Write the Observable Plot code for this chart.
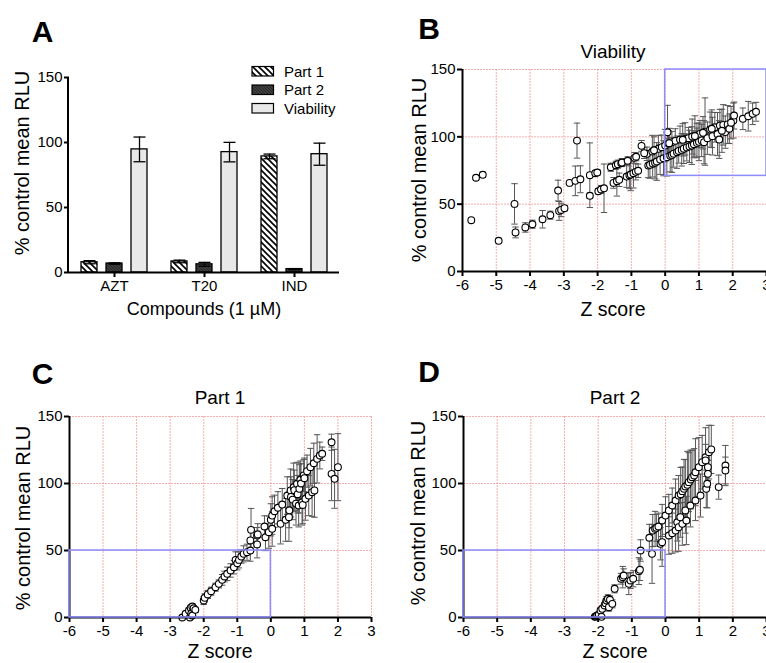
<!DOCTYPE html>
<html><head><meta charset="utf-8">
<script src="https://cdn.jsdelivr.net/npm/d3@7"></script>
<script src="https://cdn.jsdelivr.net/npm/@observablehq/plot@0.6"></script>
<style>
html,body{margin:0;padding:0;background:#fff;}
#wrap{position:relative;width:766px;height:663px;overflow:hidden;font-family:"Liberation Sans",Arial,sans-serif;background:#fff;}
#wrap > svg{position:absolute;}
</style></head><body><div id="wrap"></div>
<script>
// ---------- Panel A data ----------
const compounds = ["AZT", "T20", "IND"];
const series = ["Part 1", "Part 2", "Viability"];
const part1Mean = [7.9, 8.5, 89.3];
const part1Err = [1.2, 1.0, 1.8];
const part2Mean = [6.9, 6.3, 2.6];
const part2Err = [0.5, 1.5, 0.4];
const viabMean = [94.7, 92.6, 91.0];
const viabErr = [9.5, 7.5, 8.5];
const yTicks = [0, 50, 100, 150];
const zTicks = [-6, -5, -4, -3, -2, -1, 0, 1, 2, 3];

// ---------- Panel B (Viability) ----------
const zB = [-5.74,-5.60,-5.40,-4.93,-4.46,-4.43,-4.14,-3.93,-3.63,-3.40,
  -3.17,-3.14,-3.08,-2.98,-2.83,-2.66,-2.61,-2.51,-2.23,-2.23,
  -2.07,-2.01,-1.98,-1.90,-1.81,-1.61,-1.53,-1.46,-1.43,-1.40,
  -1.36,-1.30,-1.28,-1.14,-1.11,-1.06,-1.02,-0.94,-0.91,-0.87,
  -0.86,-0.80,-0.70,-0.54,-0.50,-0.45,-0.38,-0.37,-0.30,-0.25,
  -0.20,-0.15,-0.10,-0.05,0.00,0.05,0.07,0.10,0.15,0.20,
  0.20,0.25,0.30,0.35,0.40,0.44,0.49,0.55,0.59,0.64,
  0.69,0.72,0.79,0.85,0.94,0.94,1.00,1.03,1.08,1.15,
  1.18,1.25,1.33,1.40,1.47,1.55,1.60,1.62,1.72,1.78,
  1.85,1.90,2.02,2.04,2.30,2.46,2.59,2.69,
  -0.62,-0.33,0.12,0.52,0.80,0.88,1.12,1.38,1.68,1.95];
const vB = [38.1,69.6,71.8,22.8,50.2,29.0,32.7,35.1,38.8,41.8,
  60.1,45.0,45.7,47.0,65.8,67.3,97.2,68.5,56.2,71.5,
  73.0,73.5,59.6,60.9,61.8,77.4,65.8,78.9,67.0,79.7,
  68.1,80.4,80.9,70.5,82.2,71.5,72.0,73.0,84.4,74.0,
  85.2,74.8,93.3,87.4,78.7,79.2,89.1,80.2,80.8,81.7,
  91.1,83.1,92.3,84.1,93.5,84.9,103.4,94.8,86.0,96.0,
  86.6,87.5,97.0,88.6,89.5,98.0,90.3,91.2,98.5,92.1,
  99.0,92.9,93.5,94.5,95.5,101.0,96.3,102.2,97.3,96.0,
  103.9,99.0,105.4,100.5,107.1,102.0,98.0,108.4,108.9,103.5,
  109.2,106.0,112.1,115.8,113.4,115.3,117.1,118.6,
  87.9,90.0,95.3,97.8,100.2,100.6,103.0,106.0,104.5,110.5];
const eB = [0,1.5,2,0,15,4,3.5,3,6.5,3,
  7.7,7,5,2,1,11,13,10,2,24,
  2,2,2,3,18,3,4,3,11,3,
  5,2,3,8,3,10,12,11,4,6,
  3,5,4,5,9,10,12,10,12,14,
  10,11,9,13,12,14,20,10,12,8,
  13,10,9,12,9,10,12,11,12,10,
  8,12,14,10,11,9,14,10,12,16,
  25,12,13,14,11,16,14,12,15,12,
  14,11,13,10,8,11,8,7,
  4,10,11,12,13,15,12,14,16,12];
const boxB = [0, 3, 71, 150];

// ---------- Panel C (Part 1) ----------
const zC = [-2.64,-2.54,-2.44,-2.41,-2.39,-2.37,-2.34,-2.34,-2.30,-2.25,
  -2.00,-1.97,-1.88,-1.78,-1.65,-1.55,-1.45,-1.38,-1.30,-1.20,
  -1.10,-1.05,-1.00,-0.95,-0.88,-0.81,-0.71,-0.61,-0.61,-0.59,
  -0.41,-0.41,-0.39,-0.19,-0.16,-0.06,0.00,0.04,0.04,0.11,
  0.21,0.29,0.34,0.44,0.49,0.54,0.55,0.59,0.60,0.65,
  0.68,0.70,0.75,0.78,0.80,0.83,0.85,0.88,0.90,0.93,
  0.95,0.98,1.00,1.03,1.08,1.13,1.18,1.23,1.28,1.30,
  1.38,1.46,1.53,1.81,1.81,1.90,2.00];
const vC = [0.0,2.8,5.2,0.0,7.2,3.0,8.2,1.5,6.9,5.7,
  12.7,14.7,17.2,19.6,22.6,25.1,28.1,30.6,32.6,35.1,
  37.5,43.0,40.5,43.0,45.5,47.5,48.7,50.0,57.5,65.4,
  61.2,54.5,62.0,67.9,59.9,63.7,72.9,66.2,76.1,79.3,
  81.9,69.9,84.3,72.9,91.0,74.9,80.0,94.8,90.0,88.0,
  97.2,95.0,85.0,99.8,92.0,83.6,96.0,102.8,100.0,86.0,
  84.0,106.0,104.0,88.6,109.2,91.0,112.2,93.5,115.1,94.8,
  118.4,120.9,122.2,130.8,107.2,103.5,112.2];
const eC = [1,1.5,2,1,2,1.5,2,1,2,2,
  3,3,3,3,3,3,4,4,5,5,
  5,6,5,6,5,6,6,8,8,16,
  6,10,8,8,10,12,12,13,14,12,
  12,15,12,16,14,18,13,16,15,15,
  18,15,16,16,14,16,18,14,15,17,
  14,12,15,16,12,15,14,18,15,20,
  18,10,5,6,20,22,25];
const boxC = [-6, 0, 0, 50];

// ---------- Panel D (Part 2) ----------
const zD = [-2.10,-2.08,-2.05,-2.03,-1.98,-1.93,-1.90,-1.88,-1.81,-1.78,
  -1.75,-1.71,-1.68,-1.65,-1.58,-1.51,-1.32,-1.27,-1.24,-1.09,
  -1.04,-0.96,-0.79,-0.76,-0.74,-0.48,-0.40,-0.38,-0.31,-0.27,
  -0.21,-0.15,-0.10,-0.10,0.00,0.10,0.10,0.20,0.20,0.30,
  0.30,0.35,0.39,0.39,0.44,0.45,0.50,0.50,0.55,0.59,
  0.59,0.62,0.65,0.69,0.74,0.75,0.79,0.85,0.89,0.89,
  0.99,1.04,1.09,1.19,1.19,1.21,1.24,1.26,1.26,1.29,
  1.36,1.58,1.78,1.78];
const vD = [0.5,0.7,1.2,1.5,2.2,5.2,0.5,6.5,9.0,10.7,
  12.7,14.0,7.7,13.2,10.2,21.4,28.9,30.1,31.3,25.1,
  27.6,28.9,34.6,35.6,50.0,59.5,47.5,64.9,66.2,66.9,
  67.9,55.0,56.2,72.4,76.1,79.9,61.2,83.6,62.9,87.3,
  64.9,71.1,91.0,67.4,74.9,92.0,94.3,69.9,96.0,97.8,
  79.9,72.4,99.0,101.0,83.6,103.0,104.7,106.0,108.4,87.3,
  112.2,91.0,115.9,119.6,117.2,96.0,99.8,107.2,112.2,123.4,
  125.4,97.3,113.4,109.7];
const eD = [1,1,1,1,1.5,2,1,2,2,3,
  3,3,3,3,3,3,4,8,5,8,
  6,6,10,8,8,10,22,12,13,10,
  10,12,18,12,14,12,14,13,15,16,
  16,14,15,18,15,20,18,16,22,20,
  17,18,25,22,16,22,20,20,25,15,
  22,16,20,22,12,14,18,10,10,20,
  18,9,15,10];
const boxD = [-6, 0, 0, 50];

// ---------- shared ----------
const FONT = "'Liberation Sans', Arial, Helvetica, sans-serif";
const capSymbol = {draw(ctx, size) { const w = Math.sqrt(size / Math.PI); ctx.moveTo(-w, 0); ctx.lineTo(w, 0); }};
const wrap = document.getElementById("wrap");
const baseStyle = {fontFamily: FONT, fontSize: "15px", color: "#000", background: "transparent", overflow: "visible"};
const GRID = "#f5a0a0";

function place(svg, left, top) {
  svg.style.left = left + "px"; svg.style.top = top + "px";
  wrap.appendChild(svg);
}

// ---------- Panel A ----------
const means = [part1Mean, part2Mean, viabMean];
const errs = [part1Err, part2Err, viabErr];
const rowsA = compounds.flatMap((c, i) => series.map((s, j) => ({compound: c, series: s, value: means[j][i], err: errs[j][i]})));

const chartA = Plot.plot({
  width: 383, height: 330,
  marginLeft: 68, marginRight: 43, marginTop: 77, marginBottom: 58,
  style: baseStyle,
  fx: {domain: compounds, padding: 0, label: null},
  x: {domain: series, paddingInner: 0.38, paddingOuter: 0.435, axis: null},
  y: {domain: [0, 150], label: null},
  color: {type: "ordinal", domain: series, range: ["url(#hatch1)", "url(#hatch2)", "#e8e8e8"]},
  marks: [
    Plot.barY(rowsA, {fx: "compound", x: "series", y: "value", fill: "series", stroke: "#000", strokeWidth: 1.3}),
    Plot.ruleX(rowsA, {fx: "compound", x: "series", y1: d => d.value - d.err, y2: d => d.value + d.err, stroke: "#000", strokeWidth: 1.3}),
    Plot.dot(rowsA, {fx: "compound", x: "series", y: d => d.value + d.err, symbol: capSymbol, r: 6, fill: "none", stroke: "#000", strokeWidth: 1.3}),
    Plot.dot(rowsA, {fx: "compound", x: "series", y: d => d.value - d.err, symbol: capSymbol, r: 6, fill: "none", stroke: "#000", strokeWidth: 1.3}),
    Plot.ruleY([0], {stroke: "#000", strokeWidth: 2}),
    Plot.axisY({ticks: yTicks, tickSize: 5, tickPadding: 2, strokeWidth: 2, label: null}),
    Plot.axisFx({anchor: "bottom", tickSize: 5, tickPadding: 3, strokeWidth: 2, label: null})
  ]
});
{
  const sy = chartA.scale("y"), sfx = chartA.scale("fx");
  const x0 = Math.min(...sfx.range);
  d3.select(chartA).append("line")
    .attr("x1", x0).attr("x2", x0)
    .attr("y1", sy.apply(yTicks[0]) + 1).attr("y2", sy.apply(yTicks[yTicks.length - 1]))
    .attr("stroke", "#000").attr("stroke-width", 2);
}
place(chartA, 0, 0);

// ---------- Scatter panels ----------
function scatter(zs, vs, es, box, opts) {
  const data = zs.map((z, i) => ({z, v: vs[i], e: es[i]}));
  const withErr = data.filter(d => d.e > 0);
  const rect = [{x1: box[0], x2: box[1], y1: box[2], y2: box[3]}];
  return Plot.plot({
    width: 383, height: opts.height,
    marginLeft: opts.ml, marginRight: opts.mr, marginTop: opts.mt, marginBottom: opts.mb,
    style: baseStyle,
    x: {domain: [zTicks[0], zTicks[zTicks.length - 1]], label: null},
    y: {domain: [yTicks[0], yTicks[yTicks.length - 1]], label: null},
    marks: [
      Plot.gridX(zTicks.slice(1), {stroke: GRID, strokeOpacity: 0.85, strokeWidth: 1, strokeDasharray: "2,1"}),
      Plot.gridY(yTicks.slice(1), {stroke: GRID, strokeOpacity: 0.85, strokeWidth: 1, strokeDasharray: "2,1"}),
      Plot.ruleX(withErr, {x: "z", y1: d => d.v - d.e, y2: d => d.v + d.e, stroke: "#555", strokeWidth: 1}),
      Plot.dot(withErr, {x: "z", y: d => d.v + d.e, symbol: capSymbol, r: 3.2, fill: "none", stroke: "#555", strokeWidth: 1}),
      Plot.dot(withErr, {x: "z", y: d => d.v - d.e, symbol: capSymbol, r: 3.2, fill: "none", stroke: "#555", strokeWidth: 1}),
      Plot.dot(data, {x: "z", y: "v", r: 3.4, fill: "#fff", stroke: "#000", strokeWidth: 1.1}),
      Plot.ruleY([yTicks[0]], {stroke: "#000", strokeWidth: 2}),
      Plot.ruleX([zTicks[0]], {stroke: "#000", strokeWidth: 2}),
      Plot.axisX({ticks: zTicks, tickSize: 5, tickPadding: 3, strokeWidth: 2, tickFormat: d => String(d), label: null}),
      Plot.axisY({ticks: yTicks, tickSize: 5, tickPadding: 2, strokeWidth: 2, label: null}),
      Plot.rect(rect, {x1: "x1", x2: "x2", y1: "y1", y2: "y2", fill: "none", stroke: "#8c8cff", strokeWidth: 1.5})
    ]
  });
}

place(scatter(zB, vB, eB, boxB, {height: 330, ml: 79, mr: 0, mt: 69, mb: 59}), 383, 0);
place(scatter(zC, vC, eC, boxC, {height: 333, ml: 69, mr: 12, mt: 86, mb: 46}), 0, 330);
place(scatter(zD, vD, eD, boxD, {height: 333, ml: 80, mr: 0, mt: 86, mb: 46}), 383, 330);

// ---------- Overlay: patterns, panel letters, titles, axis labels, legend ----------
const ns = "http://www.w3.org/2000/svg";
const ov = d3.select(wrap).append("svg").attr("xmlns", ns)
  .attr("width", 766).attr("height", 663)
  .style("left", "0px").style("top", "0px").style("pointer-events", "none")
  .style("font-family", FONT);
const defs = ov.append("defs");
const p1 = defs.append("pattern").attr("id", "hatch1").attr("patternUnits", "userSpaceOnUse").attr("width", 6).attr("height", 6);
p1.append("rect").attr("width", 6).attr("height", 6).attr("fill", "#fff");
p1.append("path").attr("d", "M0,0L6,6M-1,5L1,7M5,-1L7,1").attr("stroke", "#000").attr("stroke-width", 1.6);
const p2 = defs.append("pattern").attr("id", "hatch2").attr("patternUnits", "userSpaceOnUse").attr("width", 3).attr("height", 3);
p2.append("rect").attr("width", 3).attr("height", 3).attr("fill", "#404040");
p2.append("path").attr("d", "M0,0L3,3M-1,2L1,4M2,-1L4,1").attr("stroke", "#1e1e1e").attr("stroke-width", 0.8);

const letters = [["A", 42.5, 41.5], ["B", 429, 39], ["C", 42.5, 383.5], ["D", 429, 382]];
letters.forEach(([t, x, y]) => ov.append("text").attr("x", x).attr("y", y).attr("text-anchor", "middle")
  .attr("font-size", 30).attr("font-weight", "bold").text(t));

const titles = [["Viability", 613, 57.5], ["Part 1", 220, 404], ["Part 2", 615, 404]];
titles.forEach(([t, x, y]) => ov.append("text").attr("x", x).attr("y", y).attr("text-anchor", "middle")
  .attr("font-size", 19).text(t));

const xLabels = [["Compounds (1 µM)", 204, 315, 18], ["Z score", 613, 316, 19.5], ["Z score", 220, 658, 19.5], ["Z score", 615, 658, 19.5]];
xLabels.forEach(([t, x, y, fs]) => ov.append("text").attr("x", x).attr("y", y).attr("text-anchor", "middle")
  .attr("font-size", fs).text(t));

const yLabelPos = [[21.5, 163], [419, 170], [22.5, 518], [418, 513]];
yLabelPos.forEach(([x, y]) => ov.append("text").attr("transform", `translate(${x},${y}) rotate(-90)`)
  .attr("text-anchor", "middle").attr("dy", "0.35em").attr("font-size", 20).text("% control mean RLU"));

const legendFill = ["url(#hatch1)", "url(#hatch2)", "#e8e8e8"];
series.forEach((s, i) => {
  const y0 = 66.5 + i * 18.5;
  ov.append("rect").attr("x", 252).attr("y", y0).attr("width", 21.5).attr("height", 9.5)
    .attr("fill", legendFill[i]).attr("stroke", "#000").attr("stroke-width", 1.2);
  ov.append("text").attr("x", 284).attr("y", y0 + 10).attr("font-size", 15).text(s);
});
</script></body></html>
